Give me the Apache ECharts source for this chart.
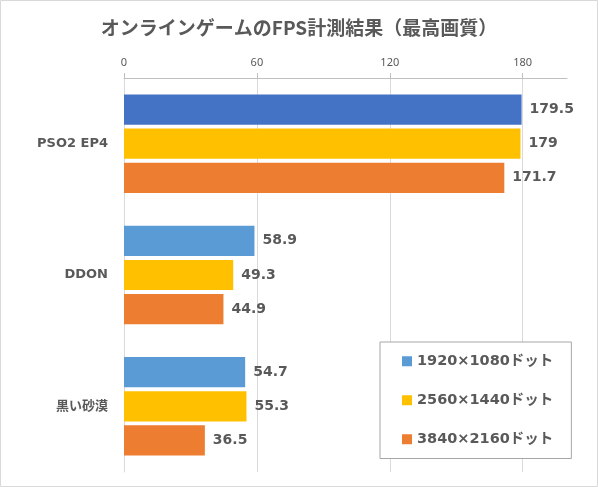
<!DOCTYPE html>
<html>
<head>
<meta charset="utf-8">
<script src="https://cdn.jsdelivr.net/npm/echarts@6/dist/echarts.min.js"></script>
<style>
html,body{margin:0;padding:0;background:#fff;}
#chart{width:598px;height:487px;}
</style>
</head>
<body>
<div id="chart"></div>
<script>
const categories = ['PSO2 EP4', 'DDON', '黒い砂漠'];
const seriesNames = ['1920×1080ドット', '2560×1440ドット', '3840×2160ドット'];
const fps1080 = [179.5, 58.9, 54.7];
const fps1440 = [179, 49.3, 55.3];
const fps2160 = [171.7, 44.9, 36.5];
const tickValues = [0, 60, 120, 180];
const titleText = 'オンラインゲームのFPS計測結果（最高画質）';

const FONT = '"DejaVu Sans", "Noto Sans CJK JP", sans-serif';
const TICKFONT = '"Noto Sans", "Noto Sans CJK JP", sans-serif';
const TXT = '#595959';
const colors = ['#5B9BD5', '#FFC000', '#ED7D31'];

const chart = echarts.init(document.getElementById('chart'), null, {renderer: 'canvas'});

const labelCfg = {
  show: true, position: 'right', distance: 8,
  color: TXT, fontSize: 14, fontWeight: 'bold', fontFamily: FONT
};

function mkSeries(name, values, color, firstColor) {
  return {
    name: name, type: 'bar',
    data: values.map((v, i) => (i === 0 && firstColor) ? {value: v, itemStyle: {color: firstColor}} : v),
    itemStyle: {color: color},
    barGap: '13%', barCategoryGap: '25%',
    label: labelCfg
  };
}

chart.setOption({
  animation: false,
  backgroundColor: '#fff',
  textStyle: {fontFamily: FONT},
  title: {
    text: titleText, left: 'center', top: 13,
    textStyle: {fontSize: 19, fontWeight: 'bold', color: TXT, fontFamily: '"Noto Sans CJK JP", sans-serif'}
  },
  graphic: [{
    type: 'rect', shape: {x: 0.5, y: 0.5, width: 597, height: 486},
    style: {fill: 'none', stroke: '#d9d9d9', lineWidth: 1}, silent: true, z: -1
  }],
  grid: {left: 124, top: 78, right: 31, bottom: 15, containLabel: false},
  xAxis: {
    type: 'value', position: 'top', min: 0, max: 200, interval: 60,
    axisLine: {show: true, lineStyle: {color: '#bfbfbf', width: 1}},
    axisTick: {show: true, length: 5, lineStyle: {color: '#bfbfbf'}, customValues: tickValues},
    axisLabel: {color: TXT, fontSize: 11, fontFamily: TICKFONT, margin: 10, customValues: tickValues},
    splitLine: {show: true, lineStyle: {color: '#d9d9d9', width: 1}}
  },
  yAxis: {
    type: 'category', data: categories, inverse: true,
    axisLine: {show: true, lineStyle: {color: '#d9d9d9'}},
    axisTick: {show: false},
    axisLabel: {color: TXT, fontSize: 13, fontWeight: 'bold', fontFamily: FONT, margin: 16}
  },
  legend: {
    orient: 'vertical', left: 380, top: 342,
    padding: [12, 18, 12, 22], itemGap: 24.5,
    itemWidth: 10, itemHeight: 10, icon: 'rect', itemStyle: {borderWidth: 0},
    backgroundColor: '#fff', borderColor: '#a6a6a6', borderWidth: 1,
    textStyle: {color: TXT, fontSize: 14.5, fontWeight: 'bold', fontFamily: FONT},
    data: seriesNames
  },
  series: [
    mkSeries(seriesNames[0], fps1080, colors[0], '#4472C4'),
    mkSeries(seriesNames[1], fps1440, colors[1]),
    mkSeries(seriesNames[2], fps2160, colors[2])
  ]
});
</script>
</body>
</html>
